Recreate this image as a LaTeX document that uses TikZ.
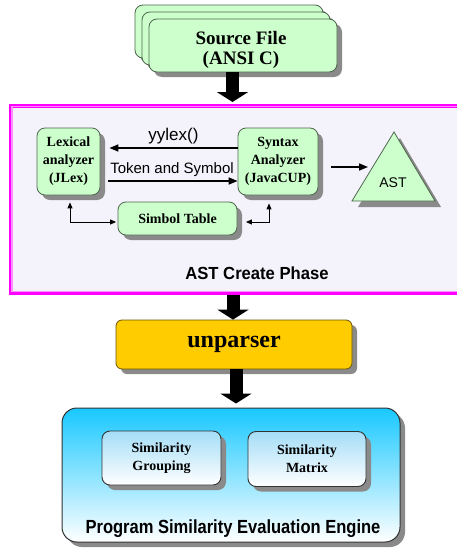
\documentclass[tikz,border=0pt]{standalone}
\usepackage{graphicx}
\usepackage{fontspec}
\setmainfont{Liberation Serif}
\newfontfamily\labelsans{Liberation Sans}
\usetikzlibrary{arrows.meta,shadows}

\definecolor{mint}{HTML}{CCFFCC}
\definecolor{greenedge}{HTML}{4F664F}
\definecolor{shadowgray}{HTML}{8A8A8A}
\definecolor{lavender}{HTML}{F4F2FB}
\definecolor{framemagenta}{HTML}{FF00FF}
\definecolor{framepink}{HTML}{FF8CFF}
\definecolor{gold}{HTML}{FFCC00}
\definecolor{goldedge}{HTML}{6B5500}
\definecolor{skytop}{HTML}{18C8FF}
\definecolor{palesky}{HTML}{A4DDF7}
\definecolor{edgegray}{HTML}{333333}

\tikzset{
  sz/.style 2 args={minimum width=#1pt, minimum height=#2pt},
  shad/.style={drop shadow={shadow xshift=5pt, shadow yshift=-5pt, fill=shadowgray, opacity=1}},
  greenbox/.style={shad, draw=greenedge, fill=mint, line width=0.8pt, rounded corners=8pt,
    inner sep=0pt, align=center, font=\bfseries\fontsize{14}{18}\selectfont},
  bluebox/.style={shad, draw=edgegray, line width=0.9pt, rounded corners=8pt,
    top color=palesky, bottom color=white, inner sep=0pt, align=center,
    font=\bfseries\fontsize{14}{18}\selectfont},
  blockarrow/.style={line width=13pt, -{Triangle[length=10pt,width=31pt]}, black},
  thinarrow/.style={line width=1.6pt, -{Triangle[length=9pt,width=7pt]}},
  linkarrow/.style={line width=0.9pt, {Triangle[length=6pt,width=5pt]}-{Triangle[length=6pt,width=5pt]}},
  sanslabel/.style={font=\labelsans\fontsize{15}{17}\selectfont, inner sep=0pt},
  caption/.style={font=\labelsans\bfseries\fontsize{18}{20}\selectfont, inner sep=0pt},
}

\begin{document}
\begin{tikzpicture}[x=1pt,y=-1pt]
\useasboundingbox (0,0) rectangle (457,549);
\fill[white] (0,0) rectangle (457,549);

% stacked source files
\node[greenbox, sz={188}{53}] (srcback) at (229,31.5) {};
\node[greenbox, sz={188}{53}] (srcmid) at (236,38.5) {};
\node[greenbox, sz={188}{53}] (src) at (243,45.5) {};
\node[align=center, inner sep=0pt, font=\bfseries\fontsize{19}{20}\selectfont] (srctext) at (241,50) {Source File\\(ANSI C)};

% AST creation phase frame
\node[draw=framemagenta, line width=3.5pt, fill=lavender, sz={459}{187}] (phase) at (240.4,199.25) {};
\draw[framepink, line width=1.2pt] ([shift={(2.8,2.8)}]phase.north west) rectangle ([shift={(-2.8,-2.8)}]phase.south east);

\node[greenbox, sz={63}{67}] (lex) at (68.5,161.5) {Lexical\\analyzer\\(JLex)};
\node[greenbox, sz={80}{67}] (syn) at (278,161.5) {Syntax\\Analyzer\\(JavaCUP)};
\node[greenbox, sz={119}{33}] (sym) at (177.5,218.5) {Simbol Table};

% parser <-> scanner calls
\coordinate (yyrow) at (0,148);
\coordinate (tokrow) at (0,181);
\draw[thinarrow, shorten >=9pt] (syn.west |- yyrow) -- (lex.east |- yyrow);
\node[sanslabel, font=\labelsans\fontsize{17}{19}\selectfont] (yylabel) at (173.5,136.5) {yylex()};
\draw[thinarrow, shorten <=8pt] (lex.east |- tokrow) -- (syn.west |- tokrow);
\node[sanslabel] (toklabel) at (172,170) {Token and Symbol};

% symbol table links
\coordinate (lk) at (70,222);
\coordinate (rk) at (269,222);
\draw[linkarrow, shorten <=7pt, shorten >=1.5pt] (lex.south -| lk) -- (lk) -- (sym.west |- lk);
\draw[linkarrow, shorten <=8pt, shorten >=8.5pt] (syn.south -| rk) -- (rk) -- (sym.east |- rk);

% abstract syntax tree
\coordinate (astapex) at (394,132);
\coordinate (astright) at (435,201);
\coordinate (astleft) at (352,201);
\coordinate (astin) at (368,167);
\fill[shadowgray] ([shift={(6,6)}]astapex) -- ([shift={(6,6)}]astright) -- ([shift={(6,6)}]astleft) -- cycle;
\filldraw[fill=mint, draw=greenedge, line width=0.8pt] (astapex) -- (astright) -- (astleft) -- cycle;
\node[sanslabel, font=\labelsans\fontsize{14}{16}\selectfont] (astlabel) at (393,183) {AST};
\draw[thinarrow, shorten <=13pt] (syn.east |- astin) -- (astin);

\node[caption, font=\labelsans\bfseries\fontsize{17.5}{20}\selectfont] (phaselabel) at (257,273) {\scalebox{0.95}[1]{AST Create Phase}};

% unparser
\node[shad, draw=goldedge, fill=gold, line width=0.8pt, rounded corners=6pt, sz={236}{49},
  font=\bfseries\fontsize{24}{26}\selectfont] (unp) at (234,344.5) {unparser};

% evaluation engine
\node[shad, draw=edgegray, line width=1pt, rounded corners=15pt, top color=skytop, bottom color=white,
  sz={338}{134}] (eng) at (231,475) {};
\node[bluebox, sz={119}{54}] (group) at (161.5,458) {Similarity\\Grouping};
\node[bluebox, sz={118}{55}] (matrix) at (307,459) {Similarity\\Matrix};
\node[caption, font=\labelsans\bfseries\fontsize{19}{21}\selectfont] (englabel) at (233,529) {\scalebox{0.87}[1]{Program Similarity Evaluation Engine}};

% flow between stages
\coordinate (a1x) at (232.5,0);
\coordinate (a2x) at (233,0);
\coordinate (a3x) at (236,0);
\draw[blockarrow, shorten >=2pt] (src.south -| a1x) -- (phase.north -| a1x);
\draw[blockarrow] (phase.south -| a2x) -- (unp.north -| a2x);
\draw[blockarrow, shorten >=4pt] (unp.south -| a3x) -- (eng.north -| a3x);
\end{tikzpicture}
\end{document}
